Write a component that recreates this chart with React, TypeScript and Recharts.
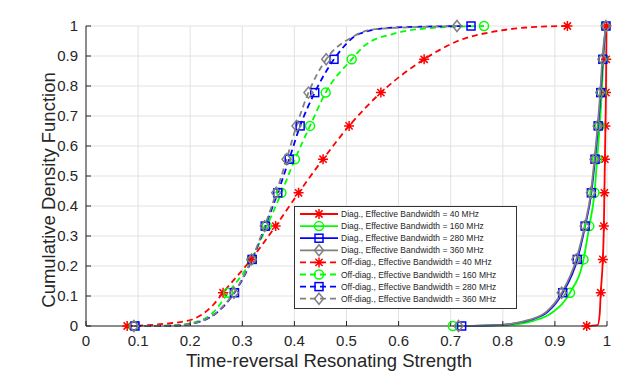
import React from "react";
import { CartesianGrid, ComposedChart, Line, XAxis, YAxis } from "recharts";

// cdf levels where the markers sit (10 markers per curve)
const cdfLevels = [0, 0.111, 0.222, 0.333, 0.444, 0.556, 0.667, 0.778, 0.889, 1];
const axisTicks = [0, 0.1, 0.2, 0.3, 0.4, 0.5, 0.6, 0.7, 0.8, 0.9, 1];
const bandwidths = ["40 MHz", "160 MHz", "280 MHz", "360 MHz"];

// marker x positions (strength) read at each cdf level
const diag40 = [0.961, 0.988, 0.992, 0.994, 0.995, 0.996, 0.997, 0.998, 0.9985, 0.999];
const diag160 = [0.704, 0.929, 0.955, 0.966, 0.976, 0.981, 0.986, 0.99, 0.993, 0.9975];
const diag280 = [0.721, 0.915, 0.943, 0.958, 0.97, 0.977, 0.983, 0.988, 0.992, 0.998];
const diag360 = [0.715, 0.913, 0.941, 0.957, 0.969, 0.976, 0.982, 0.987, 0.991, 0.998];

const offDiag40 = [0.079, 0.263, 0.317, 0.364, 0.408, 0.455, 0.505, 0.566, 0.649, 0.924];
const offDiag160 = [0.092, 0.273, 0.318, 0.347, 0.375, 0.401, 0.43, 0.46, 0.51, 0.764];
const offDiag280 = [0.094, 0.285, 0.319, 0.344, 0.368, 0.39, 0.411, 0.439, 0.476, 0.739];
const offDiag360 = [0.092, 0.284, 0.318, 0.343, 0.365, 0.385, 0.404, 0.427, 0.461, 0.712];

// extra points read along the curves between markers, [x, y]
const diag40Curve = [[0.982, 0.003], [0.986, 0.04]];
const diag160Curve = [[0.8, 0.002], [0.86, 0.018], [0.895, 0.045]];
const diag280Curve = [[0.79, 0.003], [0.852, 0.02], [0.886, 0.047]];
const diag360Curve = [[0.79, 0.003], [0.852, 0.021], [0.884, 0.048]];

const offDiag40Curve = [[0.142, 0.006], [0.2, 0.02], [0.244, 0.07], [0.718, 0.953], [0.782, 0.981], [0.846, 0.995]];
const offDiag160Curve = [[0.16, 0.002], [0.2, 0.009], [0.244, 0.045], [0.535, 0.935], [0.59, 0.974], [0.654, 0.992]];
const offDiag280Curve = [[0.17, 0.001], [0.22, 0.015], [0.255, 0.05], [0.526, 0.975], [0.59, 0.995]];
const offDiag360Curve = [[0.17, 0.001], [0.22, 0.016], [0.255, 0.052], [0.512, 0.964], [0.551, 0.989]];

const colors = ["#ff0000", "#00ff00", "#0000ff", "#808080"];
const shapes = ["star", "circle", "square", "diamond"];
const font = "'Liberation Sans', Arial, Helvetica, sans-serif";

type Pt = { x: number; y: number };

const toMarkers = (xs: number[]): Pt[] => xs.map((x, i) => ({ x, y: cdfLevels[i] }));
const toCurve = (xs: number[], extra: number[][]): Pt[] =>
  [...toMarkers(xs), ...extra.map(([x, y]) => ({ x, y }))].sort((a, b) => a.x - b.x);

const diagX = [diag40, diag160, diag280, diag360];
const diagExtra = [diag40Curve, diag160Curve, diag280Curve, diag360Curve];
const offX = [offDiag40, offDiag160, offDiag280, offDiag360];
const offExtra = [offDiag40Curve, offDiag160Curve, offDiag280Curve, offDiag360Curve];

const series = [
  ...bandwidths.map((bw, i) => ({
    id: `d${i}`,
    name: `Diag., Effective Bandwidth = ${bw}`,
    color: colors[i],
    shape: shapes[i],
    dashed: false,
    markers: toMarkers(diagX[i]),
    curve: toCurve(diagX[i], diagExtra[i]),
  })),
  ...bandwidths.map((bw, i) => ({
    id: `o${i}`,
    name: `Off-diag., Effective Bandwidth = ${bw}`,
    color: colors[i],
    shape: shapes[i],
    dashed: true,
    markers: toMarkers(offX[i]),
    curve: toCurve(offX[i], offExtra[i]),
  })),
];

function Marker({ cx, cy, shape, color }: { cx?: number; cy?: number; shape: string; color: string }) {
  if (cx == null || cy == null) return null;
  const common = { fill: "none", stroke: color, strokeWidth: 1.5 };
  if (shape === "star") {
    const r = 5;
    const d = 3.6;
    return (
      <path
        {...common}
        d={`M${cx - r},${cy}H${cx + r}M${cx},${cy - r}V${cy + r}M${cx - d},${cy - d}L${cx + d},${cy + d}M${cx - d},${cy + d}L${cx + d},${cy - d}`}
      />
    );
  }
  if (shape === "circle") return <circle {...common} cx={cx} cy={cy} r={4.5} />;
  if (shape === "square") return <rect {...common} x={cx - 4} y={cy - 4} width={8} height={8} />;
  return <path {...common} d={`M${cx},${cy - 5.5}L${cx + 4.5},${cy}L${cx},${cy + 5.5}L${cx - 4.5},${cy}Z`} />;
}

function LegendBox() {
  const top = 214;
  const step = 12.1;
  return (
    <svg width={633} height={387} style={{ position: "absolute", left: 0, top: 0, pointerEvents: "none" }}>
      <rect x={294.5} y={206.5} width={222} height={102} fill="#ffffff" stroke="#333333" strokeWidth={1} />
      {series.map((s, i) => {
        const y = top + i * step;
        return (
          <g key={s.id}>
            <line
              x1={300}
              x2={338}
              y1={y}
              y2={y}
              stroke={s.color}
              strokeWidth={1.8}
              strokeDasharray={s.dashed ? "6 4" : undefined}
            />
            <Marker cx={319} cy={y} shape={s.shape} color={s.color} />
            <text x={341} y={y} dominantBaseline="central" fontSize={8.5} fontFamily={font} fill="#262626">
              {s.name}
            </text>
          </g>
        );
      })}
    </svg>
  );
}

export default function App() {
  return (
    <div style={{ position: "absolute", left: 0, top: 0, width: 633, height: 387, background: "#ffffff" }}>
      <ComposedChart width={633} height={387} margin={{ top: 26, right: 26, bottom: 0, left: 0 }}>
        <CartesianGrid stroke="#e2e2e2" strokeWidth={1} />
        <XAxis
          type="number"
          dataKey="x"
          domain={[0, 1]}
          ticks={axisTicks}
          interval={0}
          height={61}
          tickSize={-5}
          tickMargin={14}
          stroke="#262626"
          tick={{ fontSize: 15, fill: "#262626", fontFamily: font }}
          label={() => (
            <text x={329} y={367} textAnchor="middle" fontSize={18.5} fontFamily={font} fill="#262626">
              Time-reversal Resonating Strength
            </text>
          )}
        />
        <YAxis
          type="number"
          dataKey="y"
          domain={[0, 1]}
          ticks={axisTicks}
          interval={0}
          width={86}
          tickSize={-5}
          tickMargin={13}
          stroke="#262626"
          tick={{ fontSize: 15, fill: "#262626", fontFamily: font }}
          label={() => (
            <text
              transform="translate(55,190) rotate(-90)"
              textAnchor="middle"
              fontSize={18.5}
              fontFamily={font}
              fill="#262626"
            >
              Cumulative Density Function
            </text>
          )}
        />
        {series.flatMap((s) => [
          <Line
            key={`${s.id}-curve`}
            data={s.curve}
            dataKey="y"
            type="monotone"
            stroke={s.color}
            strokeWidth={1.8}
            strokeDasharray={s.dashed ? "6 4" : undefined}
            dot={false}
            activeDot={false}
            isAnimationActive={false}
          />,
          <Line
            key={`${s.id}-marks`}
            data={s.markers}
            dataKey="y"
            stroke="none"
            dot={(p: any) => (
              <Marker key={`${s.id}-m-${p.index}`} cx={p.cx} cy={p.cy} shape={s.shape} color={s.color} />
            )}
            activeDot={false}
            isAnimationActive={false}
          />,
        ])}
      </ComposedChart>
      <LegendBox />
    </div>
  );
}
